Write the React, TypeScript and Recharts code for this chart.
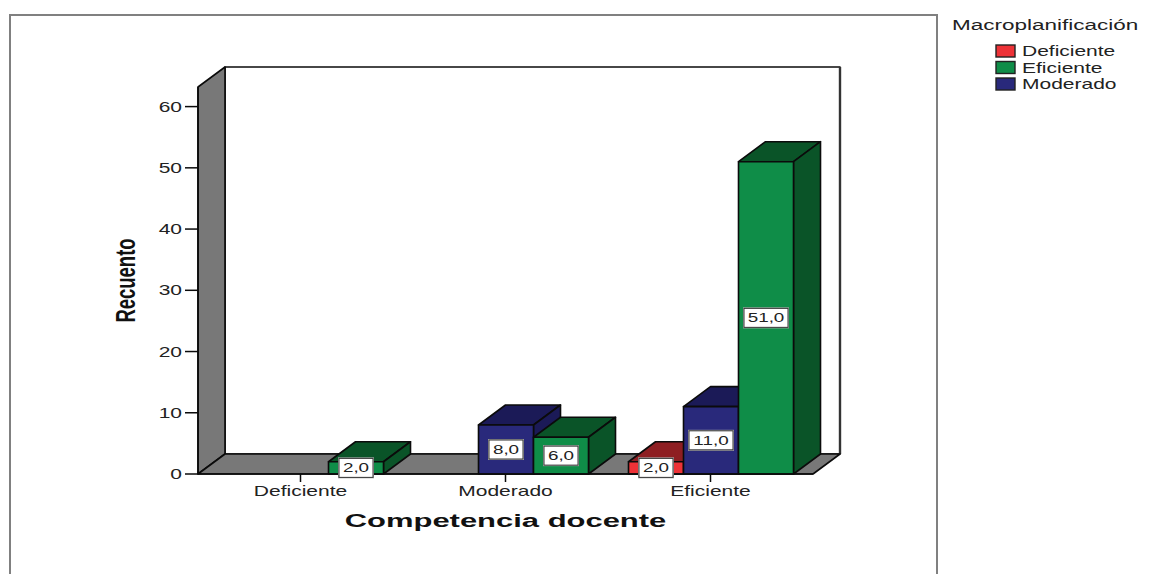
import { Bar, BarChart, Label, LabelList, Legend, ReferenceArea, XAxis, YAxis } from "recharts";

const categories = ["Deficiente", "Moderado", "Eficiente"];
const deficienteValues = [null, null, 2];
const moderadoValues = [null, 8, 11];
const eficienteValues = [2, 6, 51];
const yTicks = [0, 10, 20, 30, 40, 50, 60];
const yMax = 63.2;

const chartData = categories.map((name, i) => ({
  name,
  deficiente: deficienteValues[i],
  moderado: moderadoValues[i],
  eficiente: eficienteValues[i],
}));

// the 3D look: everything is pushed back by this much
const DEPTH_X = 27;
const DEPTH_Y = 20;
const FONT = "'Liberation Sans', Arial, sans-serif";
const INK = "#0b0b0b";

// the source picture is stretched sideways, so text gets a horizontal scale
function WideText({ x, y, sx = 1.5, size = 14, anchor = "middle", weight = "normal", fill = "#222", rotate = 0, children }: any) {
  return (
    <text
      transform={`translate(${x},${y}) rotate(${rotate}) scale(${sx},1)`}
      textAnchor={anchor}
      fontFamily={FONT}
      fontSize={size}
      fontWeight={weight}
      fill={fill}
    >
      {children}
    </text>
  );
}

function Walls({ x, y, width, height }: any) {
  const bottom = y + height;
  const right = x + width;
  return (
    <g stroke={INK} strokeWidth={1.6} strokeLinejoin="round">
      <rect x={x + DEPTH_X} y={y - DEPTH_Y} width={width} height={height} fill="#fff" />
      <line x1={right + DEPTH_X} y1={y - DEPTH_Y} x2={right + DEPTH_X} y2={bottom - DEPTH_Y} stroke="#333" strokeWidth={2.4} />
      <polygon
        points={`${x},${y} ${x + DEPTH_X},${y - DEPTH_Y} ${x + DEPTH_X},${bottom - DEPTH_Y} ${x},${bottom}`}
        fill="#787878"
      />
      <polygon
        points={`${x},${bottom} ${x + DEPTH_X},${bottom - DEPTH_Y} ${right + DEPTH_X},${bottom - DEPTH_Y} ${right},${bottom}`}
        fill="#787878"
      />
    </g>
  );
}

function box3D(dark: string) {
  return function Box({ x, y, width, height, fill }: any) {
    if (!height || height <= 0) return <g />;
    const r = x + width;
    const b = y + height;
    return (
      <g stroke={INK} strokeWidth={1.6} strokeLinejoin="round">
        <polygon
          points={`${x},${y} ${x + DEPTH_X},${y - DEPTH_Y} ${r + DEPTH_X},${y - DEPTH_Y} ${r},${y}`}
          fill={dark}
        />
        <polygon
          points={`${r},${y} ${r + DEPTH_X},${y - DEPTH_Y} ${r + DEPTH_X},${b - DEPTH_Y} ${r},${b}`}
          fill={dark}
        />
        <rect x={x} y={y} width={width} height={height} fill={fill} />
      </g>
    );
  };
}

function ValueBox({ x, y, width, height, value }: any) {
  if (value == null) return null;
  const text = Number(value).toFixed(1).replace(".", ",");
  const w = text.length > 3 ? 44 : 34;
  const h = 19;
  const cx = x + width / 2;
  const cy = y + height / 2;
  return (
    <g>
      <rect x={cx - w / 2 - 1} y={cy - h / 2 - 1} width={w + 2} height={h + 2} fill="#b5b5b5" />
      <rect x={cx - w / 2} y={cy - h / 2} width={w} height={h} fill="#fff" stroke="#333" strokeWidth={1} />
      <WideText x={cx} y={cy + 4.5} size={13} sx={1.45}>
        {text}
      </WideText>
    </g>
  );
}

function YTick({ x, y, payload }: any) {
  return (
    <WideText x={x} y={y + 5} anchor="end">
      {payload.value}
    </WideText>
  );
}

function XTick({ x, y, payload }: any) {
  return (
    <WideText x={x} y={y + 12}>
      {payload.value}
    </WideText>
  );
}

function XTitle({ viewBox }: any) {
  return (
    <WideText x={viewBox.x + viewBox.width / 2} y={527} size={18} sx={1.72} weight="bold" fill="#111">
      Competencia docente
    </WideText>
  );
}

function YTitle({ viewBox }: any) {
  return (
    <WideText x={135} y={viewBox.y + viewBox.height / 2} size={28} sx={0.66} weight="bold" fill="#111" rotate={-90}>
      Recuento
    </WideText>
  );
}

function LegendBox({ payload }: any) {
  return (
    <svg width={220} height={90} style={{ display: "block" }}>
      <WideText x={7} y={20} size={15} sx={1.5} anchor="start">
        Macroplanificación
      </WideText>
      {(payload ?? []).map((item: any, i: number) => (
        <g key={item.value}>
          <rect x={51} y={35 + i * 16.5} width={19} height={12} fill={item.color} stroke="#222" strokeWidth={1.4} />
          <WideText x={77} y={46 + i * 16.5} anchor="start">
            {item.value}
          </WideText>
        </g>
      ))}
    </svg>
  );
}

export default function App() {
  return (
    <div style={{ position: "absolute", left: 0, top: 0, width: 1166, height: 574, overflow: "hidden", background: "#fff" }}>
      <div
        style={{
          position: "absolute",
          left: 9,
          top: 14,
          width: 925,
          height: 620,
          border: "2px solid #808080",
        }}
      />
      <BarChart
        width={1166}
        height={574}
        data={chartData}
        margin={{ top: 87, right: 353, bottom: 0, left: 0 }}
        barCategoryGap="10%"
        barGap={0}
      >
        <XAxis
          dataKey="name"
          height={100}
          tick={<XTick />}
          tickSize={8}
          tickLine={{ stroke: INK, strokeWidth: 1.5 }}
          axisLine={{ stroke: INK, strokeWidth: 1.6 }}
        >
          <Label content={<XTitle />} />
        </XAxis>
        <YAxis
          width={198}
          domain={[0, yMax]}
          ticks={yTicks}
          tick={<YTick />}
          tickSize={13}
          tickMargin={3}
          tickLine={{ stroke: INK, strokeWidth: 1.5 }}
          axisLine={{ stroke: INK, strokeWidth: 1.6 }}
        >
          <Label content={<YTitle />} />
        </YAxis>
        <ReferenceArea y1={0} y2={yMax} shape={<Walls />} />
        <Legend
          layout="horizontal"
          align="center"
          verticalAlign="middle"
          width={220}
          wrapperStyle={{ left: 945, top: 10, width: 220, height: 90 }}
          content={<LegendBox />}
        />
        <Bar dataKey="deficiente" name="Deficiente" fill="#ED3237" shape={box3D("#8E1E22")} isAnimationActive={false}>
          <LabelList dataKey="deficiente" content={<ValueBox />} />
        </Bar>
        <Bar dataKey="moderado" name="Moderado" fill="#29297B" shape={box3D("#1B1A57")} isAnimationActive={false}>
          <LabelList dataKey="moderado" content={<ValueBox />} />
        </Bar>
        <Bar dataKey="eficiente" name="Eficiente" fill="#0F8D48" shape={box3D("#0A5428")} isAnimationActive={false}>
          <LabelList dataKey="eficiente" content={<ValueBox />} />
        </Bar>
      </BarChart>
    </div>
  );
}
